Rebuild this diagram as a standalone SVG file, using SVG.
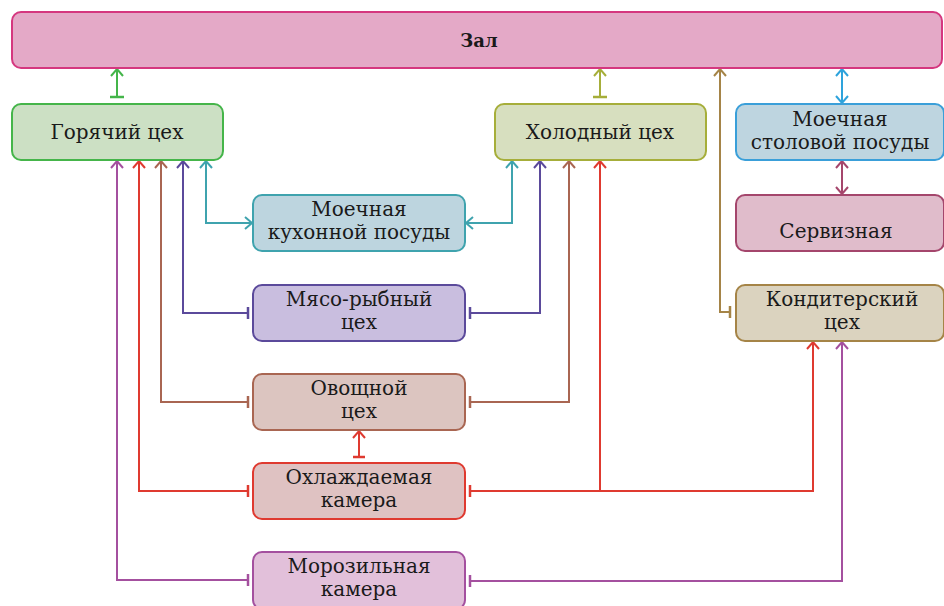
<svg xmlns="http://www.w3.org/2000/svg" width="944" height="606" viewBox="0 0 944 606">
<style>
.b{stroke-width:2}
.t{font-family:"DejaVu Serif","Liberation Serif",serif;font-size:20px;fill:#1a1a1a;text-anchor:middle}
.h{font-family:"DejaVu Serif","Liberation Serif",serif;font-size:18px;font-weight:bold;fill:#1a1a1a;text-anchor:middle}
.c{fill:none;stroke-width:2}
</style>
<defs>
<marker id="a-green" markerUnits="userSpaceOnUse" markerWidth="16" markerHeight="16" refX="8" refY="8" orient="auto-start-reverse" overflow="visible"><path d="M1,2 L8,8 L1,14" fill="none" stroke="#44b54a" stroke-width="2"/></marker>
<marker id="a-olive" markerUnits="userSpaceOnUse" markerWidth="16" markerHeight="16" refX="8" refY="8" orient="auto-start-reverse" overflow="visible"><path d="M1,2 L8,8 L1,14" fill="none" stroke="#a6ae3a" stroke-width="2"/></marker>
<marker id="a-blue" markerUnits="userSpaceOnUse" markerWidth="16" markerHeight="16" refX="8" refY="8" orient="auto-start-reverse" overflow="visible"><path d="M1,2 L8,8 L1,14" fill="none" stroke="#2ea3dc" stroke-width="2"/></marker>
<marker id="a-maroon" markerUnits="userSpaceOnUse" markerWidth="16" markerHeight="16" refX="8" refY="8" orient="auto-start-reverse" overflow="visible"><path d="M1,2 L8,8 L1,14" fill="none" stroke="#a5466c" stroke-width="2"/></marker>
<marker id="a-gold" markerUnits="userSpaceOnUse" markerWidth="16" markerHeight="16" refX="8" refY="8" orient="auto-start-reverse" overflow="visible"><path d="M1,2 L8,8 L1,14" fill="none" stroke="#a58447" stroke-width="2"/></marker>
<marker id="a-teal" markerUnits="userSpaceOnUse" markerWidth="16" markerHeight="16" refX="8" refY="8" orient="auto-start-reverse" overflow="visible"><path d="M1,2 L8,8 L1,14" fill="none" stroke="#3fa3ae" stroke-width="2"/></marker>
<marker id="a-purple" markerUnits="userSpaceOnUse" markerWidth="16" markerHeight="16" refX="8" refY="8" orient="auto-start-reverse" overflow="visible"><path d="M1,2 L8,8 L1,14" fill="none" stroke="#5b4a9b" stroke-width="2"/></marker>
<marker id="a-brown" markerUnits="userSpaceOnUse" markerWidth="16" markerHeight="16" refX="8" refY="8" orient="auto-start-reverse" overflow="visible"><path d="M1,2 L8,8 L1,14" fill="none" stroke="#a96652" stroke-width="2"/></marker>
<marker id="a-red" markerUnits="userSpaceOnUse" markerWidth="16" markerHeight="16" refX="8" refY="8" orient="auto-start-reverse" overflow="visible"><path d="M1,2 L8,8 L1,14" fill="none" stroke="#df3a30" stroke-width="2"/></marker>
<marker id="a-mag" markerUnits="userSpaceOnUse" markerWidth="16" markerHeight="16" refX="8" refY="8" orient="auto-start-reverse" overflow="visible"><path d="M1,2 L8,8 L1,14" fill="none" stroke="#a4509f" stroke-width="2"/></marker>
<marker id="t-green" markerUnits="userSpaceOnUse" markerWidth="16" markerHeight="16" refX="8" refY="8" orient="auto" overflow="visible"><path d="M8,1 L8,15" stroke="#44b54a" stroke-width="2.5"/></marker>
<marker id="t-olive" markerUnits="userSpaceOnUse" markerWidth="16" markerHeight="16" refX="8" refY="8" orient="auto" overflow="visible"><path d="M8,1 L8,15" stroke="#a6ae3a" stroke-width="2.5"/></marker>
<marker id="t-gold" markerUnits="userSpaceOnUse" markerWidth="16" markerHeight="16" refX="8" refY="8" orient="auto" overflow="visible"><path d="M8,2 L8,14" stroke="#a58447" stroke-width="2.5"/></marker>
<marker id="t-purple" markerUnits="userSpaceOnUse" markerWidth="16" markerHeight="16" refX="8" refY="8" orient="auto" overflow="visible"><path d="M8,2 L8,14" stroke="#5b4a9b" stroke-width="2.5"/></marker>
<marker id="t-brown" markerUnits="userSpaceOnUse" markerWidth="16" markerHeight="16" refX="8" refY="8" orient="auto" overflow="visible"><path d="M8,2 L8,14" stroke="#a96652" stroke-width="2.5"/></marker>
<marker id="t-red" markerUnits="userSpaceOnUse" markerWidth="16" markerHeight="16" refX="8" refY="8" orient="auto" overflow="visible"><path d="M8,2 L8,14" stroke="#df3a30" stroke-width="2.5"/></marker>
<marker id="t-mag" markerUnits="userSpaceOnUse" markerWidth="16" markerHeight="16" refX="8" refY="8" orient="auto" overflow="visible"><path d="M8,2 L8,14" stroke="#a4509f" stroke-width="2.5"/></marker>
</defs>
<rect width="944" height="606" fill="#ffffff"/>
<g id="connectors">
<path class="c" stroke="#44b54a" d="M117,97 L117,69" marker-start="url(#t-green)" marker-end="url(#a-green)"/>
<path class="c" stroke="#a6ae3a" d="M600,97 L600,69" marker-start="url(#t-olive)" marker-end="url(#a-olive)"/>
<path class="c" stroke="#2ea3dc" d="M842,69 L842,103" marker-start="url(#a-blue)" marker-end="url(#a-blue)"/>
<path class="c" stroke="#a5466c" d="M842,161 L842,194" marker-start="url(#a-maroon)" marker-end="url(#a-maroon)"/>
<path class="c" stroke="#a58447" d="M730,312 L720,312 L720,69" marker-start="url(#t-gold)" marker-end="url(#a-gold)"/>
<path class="c" stroke="#3fa3ae" d="M252,223 L206,223 L206,161" marker-start="url(#a-teal)" marker-end="url(#a-teal)"/>
<path class="c" stroke="#3fa3ae" d="M466,223 L512,223 L512,161" marker-start="url(#a-teal)" marker-end="url(#a-teal)"/>
<path class="c" stroke="#5b4a9b" d="M248,313 L183,313 L183,161" marker-start="url(#t-purple)" marker-end="url(#a-purple)"/>
<path class="c" stroke="#5b4a9b" d="M470,313 L540,313 L540,161" marker-start="url(#t-purple)" marker-end="url(#a-purple)"/>
<path class="c" stroke="#a96652" d="M248,402 L161,402 L161,161" marker-start="url(#t-brown)" marker-end="url(#a-brown)"/>
<path class="c" stroke="#a96652" d="M470,402 L569,402 L569,161" marker-start="url(#t-brown)" marker-end="url(#a-brown)"/>
<path class="c" stroke="#df3a30" d="M248,491 L139,491 L139,161" marker-start="url(#t-red)" marker-end="url(#a-red)"/>
<path class="c" stroke="#df3a30" d="M470,491 L813,491 L813,342" marker-start="url(#t-red)" marker-end="url(#a-red)"/>
<path class="c" stroke="#df3a30" d="M600,491 L600,161" marker-end="url(#a-red)"/>
<path class="c" stroke="#df3a30" d="M359,457 L359,431" marker-start="url(#t-red)" marker-end="url(#a-red)"/>
<path class="c" stroke="#a4509f" d="M248,580 L117,580 L117,161" marker-start="url(#t-mag)" marker-end="url(#a-mag)"/>
<path class="c" stroke="#a4509f" d="M470,581 L842,581 L842,342" marker-start="url(#t-mag)" marker-end="url(#a-mag)"/>
</g>
<g id="zal"><rect class="b" x="12" y="12" width="930" height="56" rx="9" fill="#e4a9c7" stroke="#d5377f"/><text class="h" x="479" y="47">Зал</text></g>
<g id="goryachiy"><rect class="b" x="12" y="104" width="211" height="56" rx="9" fill="#cce0c4" stroke="#45b54a"/><text class="t" x="117" y="139">Горячий цех</text></g>
<g id="kholodny"><rect class="b" x="495" y="104" width="211" height="56" rx="9" fill="#d7dfbf" stroke="#a6ae3a"/><text class="t" x="600" y="139">Холодный цех</text></g>
<g id="moechnaya-stol"><rect class="b" x="736" y="104" width="208" height="56" rx="9" fill="#bed5e0" stroke="#3a9fd9"/><text class="t" x="840" y="126">Моечная</text><text class="t" x="840" y="149">столовой посуды</text></g>
<g id="servisnaya"><rect class="b" x="736" y="195" width="208" height="56" rx="9" fill="#e0bccb" stroke="#a4466c"/><text class="t" x="836" y="238">Сервизная</text></g>
<g id="konditerskiy"><rect class="b" x="736" y="285" width="208" height="56" rx="9" fill="#dbd3bf" stroke="#a58447"/><text class="t" x="842" y="306">Кондитерский</text><text class="t" x="842" y="329">цех</text></g>
<g id="moechnaya-kukh"><rect class="b" x="253" y="195" width="212" height="56" rx="9" fill="#bdd5df" stroke="#3fa3ae"/><text class="t" x="359" y="216">Моечная</text><text class="t" x="359" y="239">кухонной посуды</text></g>
<g id="myaso"><rect class="b" x="253" y="285" width="212" height="56" rx="9" fill="#c9bedf" stroke="#5b4a9b"/><text class="t" x="359" y="306">Мясо-рыбный</text><text class="t" x="359" y="329">цех</text></g>
<g id="ovoshchnoy"><rect class="b" x="253" y="374" width="212" height="56" rx="9" fill="#dcc5c0" stroke="#a96652"/><text class="t" x="359" y="395">Овощной</text><text class="t" x="359" y="418">цех</text></g>
<g id="okhlazhdaemaya"><rect class="b" x="253" y="463" width="212" height="56" rx="9" fill="#dfc2c2" stroke="#df3a30"/><text class="t" x="359" y="484">Охлаждаемая</text><text class="t" x="359" y="507">камера</text></g>
<g id="morozilnaya"><rect class="b" x="253" y="552" width="212" height="57" rx="9" fill="#e2c0da" stroke="#a4509f"/><text class="t" x="359" y="573">Морозильная</text><text class="t" x="359" y="596">камера</text></g>
</svg>
